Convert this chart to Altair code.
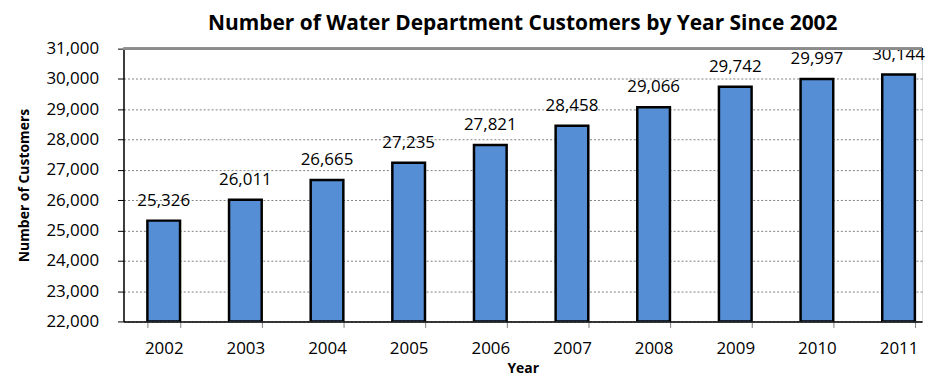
import altair as alt
import pandas as pd

years = ["2002", "2003", "2004", "2005", "2006", "2007", "2008", "2009", "2010", "2011"]
customers = [25326, 26011, 26665, 27235, 27821, 28458, 29066, 29742, 29997, 30144]
labels = [f"{v:,}" for v in customers]
y_ticks = list(range(22000, 31001, 1000))

df = pd.DataFrame({"Year": years, "Customers": customers, "Label": labels})

FONT = "Open Sans"

x_enc = alt.X(
    "Year:N",
    title="Year",
    sort=years,
    scale=alt.Scale(paddingInner=0.6, paddingOuter=0.19, align=0.77),
    axis=alt.Axis(
        labelAngle=0,
        labelFont=FONT,
        labelFontSize=17,
        labelColor="#000000",
        labelPadding=13,
        titleFont=FONT,
        titleFontSize=14,
        titleFontWeight="bold",
        titleColor="#000000",
        titlePadding=5,
        domainColor="#000000",
        domainWidth=1.5,
        tickColor="#808080",
        tickSize=6,
        tickBand="extent",
        grid=False,
    ),
)

y_enc = alt.Y(
    "Customers:Q",
    title="Number of Customers",
    scale=alt.Scale(domain=[22000, 31000], nice=False, zero=False),
    axis=alt.Axis(
        values=y_ticks,
        format=",.0f",
        labelFont=FONT,
        labelFontSize=17,
        labelColor="#000000",
        labelPadding=19,
        titleFont=FONT,
        titleFontSize=14,
        titleFontWeight="bold",
        titleColor="#000000",
        titlePadding=14,
        domainColor="#000000",
        domainWidth=1.5,
        tickColor="#000000",
        tickSize=6,
        grid=True,
        gridColor="#808080",
        gridDash=[2, 2],
        gridWidth=1,
    ),
)

base = alt.Chart(df).encode(x=x_enc, y=y_enc)

bars = base.mark_bar(
    color="#558ED5", stroke="#000000", strokeWidth=2.5, clip=True
).encode(y2=alt.datum(22000))

text = base.mark_text(
    baseline="bottom", dy=-11, font=FONT, fontSize=17, color="#000000"
).encode(text="Label:N")

top_line = alt.Chart(df).mark_rule(color="#8c8c8c", strokeWidth=2).encode(
    y=alt.value(0), x=alt.value(0), x2=alt.value(802)
)

chart = (
    alt.layer(bars, text, top_line)
    .properties(
        width=802,
        height=274,
        title=alt.TitleParams(
            "Number of Water Department Customers by Year Since 2002",
            font=FONT,
            fontSize=21,
            fontWeight="bold",
            color="#000000",
            anchor="middle",
            offset=6,
        ),
        autosize=alt.AutoSizeParams(type="none"),
        padding={"left": 116, "top": 40, "right": 5, "bottom": 60},
    )
    .configure_view(stroke=None)
    .configure(background="white")
)

chart.save("out.html", embed_options={"renderer": "svg", "actions": False})
